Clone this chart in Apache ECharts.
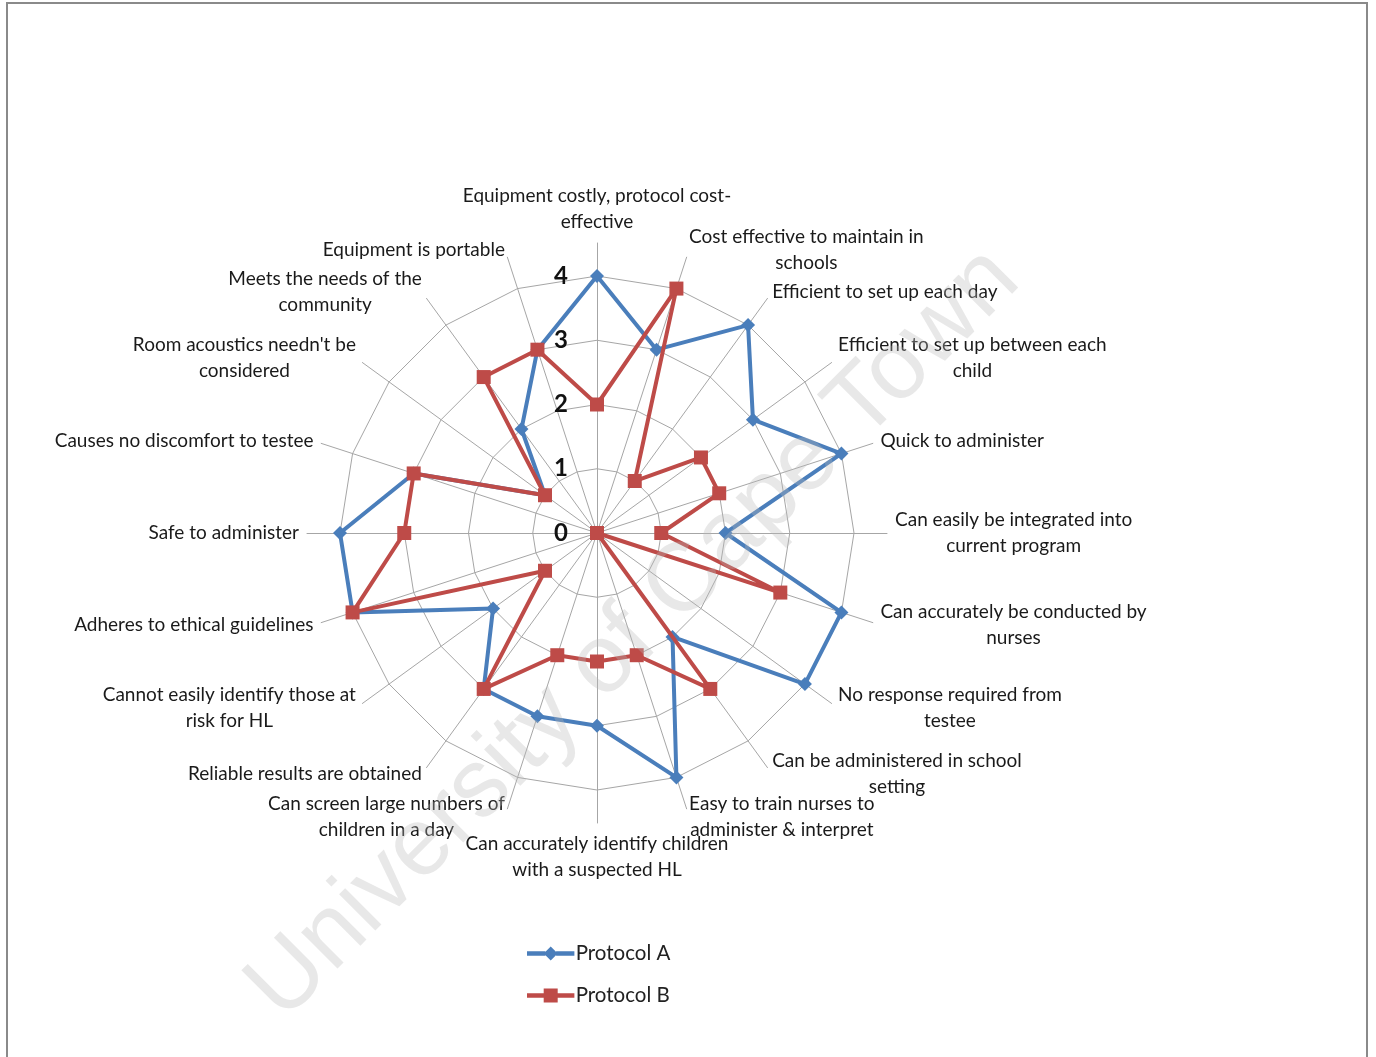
<!DOCTYPE html>
<html>
<head>
<meta charset="utf-8">
<script src="https://cdn.jsdelivr.net/npm/echarts@6/dist/echarts.min.js"></script>
<style>
  html, body { margin: 0; padding: 0; background: #ffffff; }
  #c { width: 1376px; height: 1057px; }
</style>
</head>
<body>
<div id="c"></div>
<script>
// Categories in clockwise order, starting at the top spoke
const categories = [
  'Equipment costly, protocol cost-\neffective',
  'Cost effective to maintain in\nschools',
  'Efficient to set up each day',
  'Efficient to set up between each\nchild',
  'Quick to administer',
  'Can easily be integrated into\ncurrent program',
  'Can accurately be conducted by\nnurses',
  'No response required from\ntestee',
  'Can be administered in school\nsetting',
  'Easy to train nurses to\nadminister & interpret',
  'Can accurately identify children\nwith a suspected HL',
  'Can screen large numbers of\nchildren in a day',
  'Reliable results are obtained',
  'Cannot easily identify those at\nrisk for HL',
  'Adheres to ethical guidelines',
  'Safe to administer',
  'Causes no discomfort to testee',
  "Room acoustics needn't be\nconsidered",
  'Meets the needs of the\ncommunity',
  'Equipment is portable'
];
const protocolA = [4, 3, 4, 3, 4, 2, 4, 4, 2, 4, 3, 3, 3, 2, 4, 4, 3, 1, 2, 3];
const protocolB = [2, 4, 1, 2, 2, 1, 3, 0, 3, 2, 2, 2, 3, 1, 4, 3, 3, 1, 3, 3];
const seriesNames = ['Protocol A', 'Protocol B'];
const axisMin = 0;
const axisMax = 4;
const axisSplits = 4;

// ECharts radar lays indicators out counter-clockwise: reorder to clockwise
function toCCW(arr) {
  return [arr[0]].concat(arr.slice(1).reverse());
}
const catsCCW = toCCW(categories);

const FONT = 'Lato, "Liberation Sans", sans-serif';
const blue = '#4a7ebb';
const red = '#be4b48';
const grid = '#a6a6a6';

const chart = echarts.init(document.getElementById('c'));

const option = {
  backgroundColor: '#ffffff',
  animation: false,
  textStyle: { fontFamily: FONT },
  legend: {
    orient: 'vertical',
    left: 522,
    top: 938,
    itemGap: 21,
    itemWidth: 48,
    itemHeight: 14,
    textStyle: { fontFamily: FONT, fontSize: 20.5, color: '#222', padding: [0, 0, 0, -4] },
    data: [
      { name: seriesNames[0], icon: 'path://M0,5 L17,5 L17,9 L0,9 Z M15.5,7 L22,0.5 L28.5,7 L22,13.5 Z M27,5 L44,5 L44,9 L27,9 Z', itemStyle: { color: blue } },
      { name: seriesNames[1], icon: 'path://M0,5 L16,5 L16,9 L0,9 Z M15.5,0.5 L28.5,0.5 L28.5,13.5 L15.5,13.5 Z M28,5 L44,5 L44,9 L28,9 Z', itemStyle: { color: red } }
    ]
  },
  radar: [
    {
      // outer frame: spokes and category names
      center: [597, 533],
      radius: 290,
      startAngle: 90,
      shape: 'polygon',
      splitNumber: 1,
      indicator: catsCCW.map(n => ({ name: n, min: 0, max: 1 })),
      nameGap: 8,
      axisName: {
        color: '#1a1a1a',
        fontFamily: FONT,
        fontSize: 19,
        lineHeight: 26,
        formatter: function (name) {
          return name.split('\n').map(s => '{c|' + s + '}').join('\n');
        },
        rich: {
          c: { align: 'center', fontFamily: FONT, fontSize: 19, lineHeight: 26, color: '#1a1a1a' }
        }
      },
      axisLine: { show: true, lineStyle: { color: grid, width: 1 } },
      axisTick: { show: false },
      axisLabel: { show: false },
      splitLine: { show: false },
      splitArea: { show: false }
    },
    {
      // value grid
      center: [597, 533],
      radius: 257,
      startAngle: 90,
      shape: 'polygon',
      splitNumber: axisSplits,
      indicator: catsCCW.map((n, i) => (i === 0
        ? { name: n, min: axisMin, max: axisMax, axisLabel: { show: true } }
        : { name: n, min: axisMin, max: axisMax })),
      axisName: { show: false },
      axisLine: { show: false },
      axisTick: { show: false },
      axisLabel: {
        show: false,
        fontFamily: FONT,
        fontSize: 24,
        fontWeight: 'bold',
        color: '#111',
        margin: 29
      },
      splitLine: { show: true, lineStyle: { color: grid, width: 1 } },
      splitArea: { show: false }
    }
  ],
  series: [
    {
      type: 'radar',
      name: seriesNames[0],
      radarIndex: 1,
      z: 3,
      symbol: 'diamond',
      symbolSize: 14,
      itemStyle: { color: blue },
      lineStyle: { color: blue, width: 4 },
      data: [{ name: seriesNames[0], value: toCCW(protocolA) }]
    },
    {
      type: 'radar',
      name: seriesNames[1],
      radarIndex: 1,
      z: 4,
      symbol: 'rect',
      symbolSize: 14,
      itemStyle: { color: red },
      lineStyle: { color: red, width: 4 },
      data: [{ name: seriesNames[1], value: toCCW(protocolB) }]
    }
  ],
  graphic: [
    {
      type: 'rect',
      z: 100,
      shape: { x: 7, y: 3, width: 1360, height: 1070 },
      style: { fill: null, stroke: '#8a8a8a', lineWidth: 2 },
      silent: true
    },
    {
      type: 'text',
      z: 101,
      x: 634,
      y: 634,
      rotation: Math.PI / 4,
      silent: true,
      style: {
        text: 'University of Cape Town',
        fontFamily: '"Liberation Sans", Arial, sans-serif',
        fontSize: 97,
        fill: 'rgba(185,185,185,0.33)',
        align: 'center',
        verticalAlign: 'middle'
      }
    }
  ]
};
chart.setOption(option);
</script>
</body>
</html>
